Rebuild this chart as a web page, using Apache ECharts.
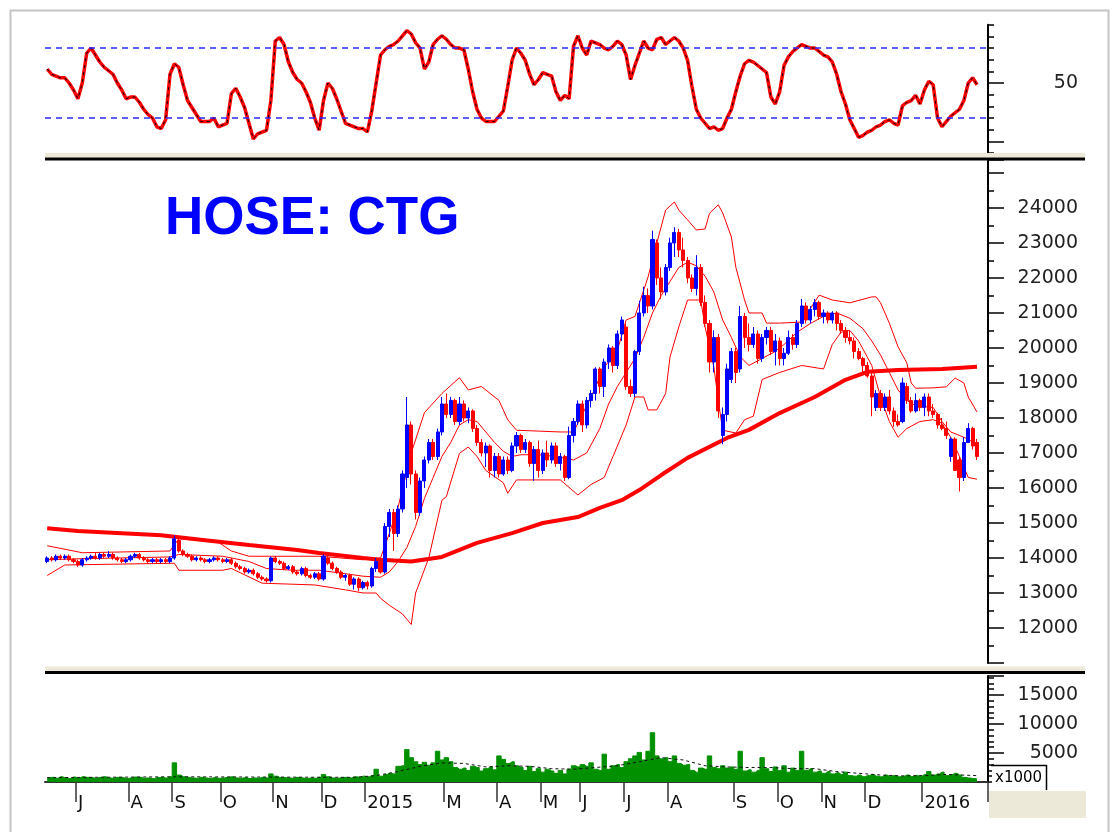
<!DOCTYPE html>
<html><head><meta charset="utf-8">
<script src="https://cdn.jsdelivr.net/npm/echarts@6/dist/echarts.min.js"></script>
<style>html,body{margin:0;padding:0;background:#fff}#c{width:1115px;height:832px}</style>
</head><body><div id="c"></div>
<script>
// ---- categories: 2-trading-day buckets grouped by month ----
const monthLabels = ['', 'J','A','S','O','N','D','2015','M','A','M','J','J','A','S','O','N','D','2016'];
const monthBuckets = [7,12,10,11,12,11,10,18,12,10,9,10,10,15,10,10,10,13,13];

// ---- price candles [open, close, low, high] ----
const candles = [
[13900,14000,13850,14050],[14000,13950,13900,14050],[13950,14050,13900,14100],[14050,14000,13950,14100],[14000,14050,13950,14100],[14050,13950,13900,14100],[13950,13900,13850,14000],[13900,13800,13750,13950],[13800,13950,13750,14000],[13950,14000,13900,14050],
[14000,14050,13950,14100],[14050,14000,13950,14150],[14000,14100,13950,14150],[14100,14050,14000,14150],[14050,14100,14000,14200],[14100,14000,13950,14150],[14000,13950,13900,14050],[13950,13900,13850,14000],[13900,13950,13850,14000],[13950,14050,13900,14100],
[14050,14100,14000,14150],[14100,14000,13950,14150],[14000,13950,13900,14050],[13950,13900,13850,14000],[13900,13950,13850,14000],[13950,13900,13850,14000],[13900,13950,13850,14000],[13950,13900,13850,14000],[13900,14000,13850,14050],[14000,14550,13950,14650],
[14500,14200,14150,14550],[14200,14100,14050,14250],[14100,14050,14000,14150],[14050,13950,13900,14100],[13950,14000,13900,14050],[14000,13950,13900,14050],[13950,13900,13850,14000],[13900,13950,13850,14000],[13950,14000,13900,14050],[14000,13950,13900,14050],
[13950,13900,13850,14000],[13900,13950,13850,14000],[13950,13850,13800,14000],[13850,13750,13700,13900],[13750,13700,13650,13800],[13700,13600,13550,13750],[13600,13650,13550,13700],[13650,13550,13500,13700],[13550,13450,13400,13600],[13450,13400,13350,13500],
[13400,13350,13300,13450],[13350,14000,13300,14050],[14000,13900,13850,14050],[13900,13850,13800,13950],[13850,13700,13650,13900],[13700,13750,13650,13800],[13750,13600,13550,13800],[13600,13550,13500,13650],[13550,13700,13500,13750],[13700,13500,13450,13750],
[13500,13450,13400,13550],[13450,13550,13400,13600],[13550,13400,13350,13600],[13400,14050,13350,14100],[14000,13850,13800,14050],[13850,13700,13650,13900],[13700,13600,13550,13750],[13600,13450,13400,13650],[13450,13500,13350,13550],[13500,13250,13200,13550],
[13250,13400,13100,13450],[13400,13150,13050,13450],[13150,13300,13100,13350],[13300,13200,13100,13350],[13200,13700,13150,13750],[13700,13900,13600,14000],[13900,13600,13550,13950],[13600,14900,13550,15000],[14900,15300,14600,15400],[15300,14700,14200,15400],
[14700,15400,14600,15500],[15400,16400,15300,16500],[16300,17800,16000,18600],[17800,16400,16100,17900],[16400,15300,15100,16500],[15300,16200,15200,16300],[16200,16800,16000,16900],[16800,17300,16700,17400],[17300,16900,16800,17400],[16900,17600,16800,17700],
[17600,18400,17500,18600],[18400,18100,18000,18700],[18100,18500,18000,18600],[18500,17900,17800,18550],[17900,18400,17800,18600],[18400,18000,17900,18500],[18000,18200,17850,18300],[18200,17700,17600,18250],[17700,17300,17200,17800],[17300,17000,16900,17400],
[17000,17200,16600,17300],[17200,16500,16300,17250],[16500,16900,16300,17000],[16900,16400,16300,17000],[16400,16800,16350,16900],[16800,16500,16400,16900],[16500,17200,16450,17300],[17200,17500,17000,17600],[17500,17100,17000,17550],[17100,17300,17000,17400],
[17300,16700,16600,17350],[16700,17100,16200,17200],[17100,16500,16300,17350],[16500,17000,16400,17100],[17000,16800,16600,17350],[16800,17200,16700,17300],[17200,16700,16600,17300],[16700,16900,16500,17000],[16900,16300,16200,16950],[16300,17500,16250,17750],
[17500,17900,17300,18000],[17900,18400,17800,18500],[18400,17800,17600,18500],[17800,18500,17700,18600],[18500,18700,18300,18800],[18700,19400,18500,19450],[19400,18900,18700,19450],[18900,19600,18600,19700],[19600,20000,19400,20100],[20000,19500,19300,20050],
[19500,20400,19400,20500],[20400,20800,20200,20900],[20600,18900,18800,20700],[18900,18700,18600,19100],[18700,19900,18600,19950],[19900,21000,19800,21350],[21000,21500,20900,21750],[21500,21200,21000,21700],[21200,23100,21100,23350],[23000,22000,21800,23100],
[22000,21600,21400,22300],[21600,22300,21500,22400],[22300,23000,22200,23150],[23000,23300,22600,23450],[23300,22800,22600,23400],[22800,22500,22300,23150],[22500,22000,21850,22600],[22000,21700,21600,22100],[21700,22300,21500,22650],[22300,21300,21200,22400],
[21300,20700,20600,21500],[20700,19600,19300,20800],[19600,20300,19300,20500],[20300,18200,18000,20400],[17500,18100,17250,18300],[18100,19400,17900,19550],[19100,19900,19000,20000],[19900,19300,19000,20000],[19400,20900,19300,21200],[20900,20300,20000,21000],
[20300,20100,19900,20700],[20100,20400,20000,20600],[20400,19700,19550,20500],[19700,20300,19600,20400],[20300,20500,20100,20600],[20500,19900,19800,20600],[19900,20200,19500,20400],[20200,19700,19500,20300],[19700,19850,19500,20000],[19850,20300,19800,20500],
[20300,20100,19950,20400],[20100,20700,20000,20800],[20700,21200,20600,21400],[21200,20800,20700,21300],[20800,21100,20700,21200],[21100,21300,20900,21400],[21300,20900,20800,21350],[20900,21000,20700,21100],[21000,20800,20700,21050],[20800,21000,20700,21050],
[21000,20700,20500,21050],[20700,20500,20400,20800],[20500,20300,20150,20600],[20300,20200,20100,20500],[20200,19900,19700,20300],[19900,19700,19650,20000],[19700,19500,19300,19750],[19500,19200,19150,19600],[19200,18600,18050,19300],[18300,18700,18200,18800],
[18700,18300,18200,18800],[18300,18600,18200,18700],[18600,18200,18100,18800],[18200,17900,17750,18300],[17900,17800,17750,18100],[17900,19000,17850,19150],[18900,18500,18400,19000],[18500,18200,18150,18600],[18200,18500,18150,18700],[18500,18300,18200,18550],
[18300,18600,18050,18700],[18600,18200,18050,18700],[18200,18100,18000,18400],[18100,17800,17700,18150],[17800,17700,17650,18000],[17700,17500,17400,17900],[16900,17400,16750,17450],[17400,16500,16500,17450],[16800,16300,15900,16900],[16300,17300,16200,17450],
[17300,17700,17300,17850],[17700,17200,17100,17750],[17300,16900,16800,17400]
];

// ---- Bollinger bands and MA200 read at selected buckets [bucket, value] ----
const bbUpper = [[0,14350],[8,14150],[28,14200],[30,14550],[39,14450],[42,14200],[46,14050],[62,14050],[72,13950],[76,14000],[78,14700],[80,15450],[83,17000],[86,18150],[90,18700],[94,19150],[96,18800],[99,18900],[103,18500],[105,17950],[107,17650],[117,17600],[120,17600],[122,18100],[124,18600],[127,19450],[130,19930],[132,20800],[134,20900],[137,22030],[139,23000],[141,23940],[143,24170],[144,23940],[146,23660],[148,23370],[150,23400],[151,23850],[153,24090],[154,23860],[156,23170],[157,22310],[159,21370],[160,21000],[163,21000],[164,20710],[167,20710],[172,20740],[176,21510],[179,21370],[183,21290],[188,21460],[189,21460],[190,21290],[192,20710],[194,20030],[196,19570],[197,19000],[198,18850],[202,18860],[205,18890],[207,19140],[209,19000],[210,18600],[212,18170]];
const bbMiddle = [[0,13950],[8,13980],[28,14030],[30,14100],[40,14050],[46,13900],[50,13700],[56,13650],[62,13650],[68,13550],[72,13480],[76,13450],[78,13600],[80,13900],[82,14300],[84,14900],[86,15700],[88,16300],[90,16900],[92,17300],[94,17800],[96,17950],[98,17900],[100,17600],[102,17300],[104,17050],[106,16900],[108,16950],[112,16950],[116,16900],[120,16800],[123,17000],[126,17700],[128,18400],[130,18900],[132,19300],[134,19700],[136,20300],[138,21000],[140,21500],[142,21900],[144,22300],[146,22450],[148,22350],[150,22050],[152,21600],[154,20800],[156,20300],[158,19750],[160,19500],[163,19700],[166,19900],[168,20100],[171,20450],[174,20700],[177,20900],[180,21000],[183,20850],[186,20550],[188,20200],[190,19800],[192,19300],[194,18800],[196,18500],[198,18350],[202,18300],[204,17900],[206,17600],[209,17450],[212,17250]];
const bbLower = [[0,13500],[4,13800],[29,13850],[30,13650],[40,13650],[42,13700],[49,13280],[61,13230],[68,13090],[72,13000],[75,13000],[76,12850],[78,12650],[81,12400],[83,12100],[84,13000],[87,14000],[90,15650],[91,15750],[94,16990],[96,17170],[98,16900],[100,16500],[104,16150],[105,15850],[107,16230],[117,16230],[121,15800],[124,16100],[127,16300],[129,16900],[132,17800],[134,18600],[136,18600],[137,18230],[139,18230],[141,18700],[142,19740],[144,20600],[146,21370],[149,21370],[150,20600],[152,19460],[153,18500],[154,17650],[157,17570],[159,17950],[161,18050],[163,19100],[167,19300],[172,19500],[177,19400],[179,20100],[181,20450],[183,20500],[185,20200],[188,19500],[190,18600],[192,17900],[194,17450],[196,17700],[199,17900],[202,17950],[204,17850],[206,17450],[208,16900],[210,16300],[212,16250]];
const ma200 = [[0,14850],[7,14770],[17,14710],[26,14650],[36,14510],[46,14370],[57,14230],[62,14140],[72,14000],[76,13950],[83,13900],[90,14030],[98,14430],[106,14710],[113,15000],[121,15170],[126,15430],[131,15650],[135,15940],[140,16370],[146,16860],[155,17430],[160,17660],[167,18140],[175,18600],[182,19090],[187,19320],[194,19370],[204,19400],[212,19460]];

// ---- RSI ----
const rsi = [58,55,54,53,53,50,46,41,50,67, 70,66,62,59,57,55,50,46,41,42, 42,39,35,32,30,25,24,29,55,61, 59,49,40,36,32,28,28,28,30,25, 26,27,44,47,42,36,27,18,21,22, 23,40,74,76,72,62,56,52,50,45, 39,30,23,40,50,47,41,34,27,26, 25,24,24,22,34,50,66,69,71,72, 74,77,80,78,73,70,58,62,72,75, 77,75,72,70,70,69,58,45,35,30, 28,28,28,31,34,48,63,70,67,63, 55,49,52,56,55,54,45,40,43,41, 71,77,70,66,74,73,72,70,69,71, 74,72,66,52,60,67,74,70,69,75, 76,72,74,76,74,70,63,48,35,30, 27,24,25,23,24,30,35,45,54,61, 63,62,60,58,56,42,38,45,60,65, 68,70,72,71,70,70,68,66,65,62, 55,45,38,29,24,19,20,22,23,25, 26,28,29,27,26,37,39,40,43,38, 46,51,49,30,25,28,31,33,35,40, 50,53,49];
const rsiBands = [70, 30];

// ---- Volume (x1000) ----
const volume = [700,800,650,900,750,600,850,700,900,800, 750,650,800,900,700,650,800,750,600,700, 850,800,650,700,600,750,800,700,900,3300, 1200,900,800,700,650,800,700,600,750,650, 700,800,900,700,650,750,600,700,650,800, 700,1400,1000,800,750,700,650,800,700,600, 700,650,800,1300,900,700,650,750,800,700, 900,850,1000,900,1100,2200,1000,1300,1500,1400, 2700,2800,5600,4200,3500,3000,3400,2900,3300,5300, 3800,4200,3500,2500,2200,2400,2000,2700,2500,1900, 2300,2600,2100,4500,3900,3200,3500,2800,2500,2000, 2700,1800,2300,1700,2200,1900,1500,2000,1400,2200, 2800,2600,3000,2700,3300,2200,2000,4800,2200,2800, 3000,2500,3500,4000,4500,5100,3800,5300,8500,4500, 4000,4200,3500,4500,3200,2900,3000,2000,1700,2400, 2200,4500,2500,2300,2800,2400,2600,2200,5300,1900, 2100,1700,2000,4200,2300,1800,2600,2000,2800,1700, 2400,2000,5300,2000,2300,1700,1900,1500,1800,1400, 1600,1300,1700,1100,1000,1200,900,1100,1300,1000, 900,1200,1000,1100,900,1000,1200,950,1100,1000, 1300,1800,1200,1400,1700,1100,1300,1500,1200,800, 700,600,500];
const volMA = [[0,750],[29,900],[70,800],[75,1100],[80,1800],[85,2700],[90,3300],[95,3200],[100,2600],[105,2800],[110,2700],[115,2300],[120,2200],[125,2500],[130,2800],[135,3500],[140,4200],[145,3800],[150,2800],[155,2600],[160,2500],[165,2500],[170,2300],[175,2300],[180,1800],[185,1500],[190,1200],[195,1050],[200,1100],[205,1300],[212,1100]];

// ---- axis label values ----
const rsiLabelValues = [50];
const priceLabelRange = [12000, 24000];
const volLabelRange = [5000, 15000];

// build categories
const categories = [];
monthBuckets.forEach((n, m) => { for (let k = 0; k < n; k++) categories.push(m + ':' + k); });
categories.push('pad-a', 'pad-b');
const isMonthStart = (idx, v) => { const p = String(v).split(':'); return p.length === 2 && p[1] === '0' && p[0] !== '0'; };
const monthLabel = (v) => { const p = String(v).split(':'); return (p.length === 2 && p[1] === '0') ? monthLabels[+p[0]] : ''; };

const FONT = 'DejaVu Sans';
const L = 45, W = 943;
const baseY = (extra) => Object.assign({
  type: 'value', position: 'right', splitLine: { show: false },
  axisLine: { show: true, lineStyle: { color: '#000', width: 2 } },
  axisTick: { show: true, length: 16, lineStyle: { color: '#000', width: 1.5 } },
  axisLabel: { show: true, align: 'right', margin: 90, fontFamily: FONT, fontSize: 19, color: '#222' }
}, extra);

const chart = echarts.init(document.getElementById('c'), null, { renderer: 'canvas' });
chart.setOption({
  animation: false,
  backgroundColor: '#ffffff',
  grid: [
    { left: L, width: W, top: 24.67, height: 128.33 },
    { left: L, width: W, top: 160, height: 503 },
    { left: L, width: W, top: 676, height: 106 }
  ],
  xAxis: [
    { type: 'category', gridIndex: 0, data: categories, boundaryGap: true, show: false },
    { type: 'category', gridIndex: 1, data: categories, boundaryGap: true, show: false },
    { type: 'category', gridIndex: 2, data: categories, boundaryGap: true, offset: 8,
      axisLine: { show: true, lineStyle: { color: '#333', width: 2 } },
      axisTick: { show: true, interval: isMonthStart, length: 20, lineStyle: { color: '#333', width: 1.5 } },
      axisLabel: { show: true, interval: isMonthStart, formatter: monthLabel, align: 'left', margin: 4,
        fontFamily: FONT, fontSize: 18, color: '#111' } }
  ],
  yAxis: [
    baseY({ gridIndex: 0, min: 10, max: 250 / 3, interval: 20 / 3,
      axisTick: { show: true, length: 6, lineStyle: { color: '#000', width: 1.5 } },
      axisLabel: { show: false } }),
    baseY({ gridIndex: 0, min: 10, max: 250 / 3, axisLine: { show: false },
      axisTick: { show: true, length: 16, customValues: [50, 50 / 3], lineStyle: { color: '#000', width: 1.5 } },
      axisLabel: { show: true, customValues: rsiLabelValues, align: 'right', margin: 90, fontFamily: FONT, fontSize: 19, color: '#222',
        padding: [6, 0, 0, 0], formatter: (v) => String(Math.round(v)) } }),
    baseY({ gridIndex: 1, min: 11000, max: 25370, interval: 1000,
      minorTick: { show: true, splitNumber: 2, length: 6, lineStyle: { color: '#000', width: 1.5 } },
      axisLabel: { show: true, align: 'right', margin: 90, fontFamily: FONT, fontSize: 19, color: '#222', padding: [3, 0, 0, 0],
        formatter: (v) => (v >= priceLabelRange[0] && v <= priceLabelRange[1]) ? String(v) : '' } }),
    baseY({ gridIndex: 2, min: 0, max: 18270, interval: 5000,
      minorTick: { show: true, splitNumber: 5, length: 6, lineStyle: { color: '#000', width: 1.5 } },
      axisLabel: { show: true, align: 'right', margin: 90, fontFamily: FONT, fontSize: 19, color: '#222',
        formatter: (v) => (v >= volLabelRange[0] && v <= volLabelRange[1]) ? String(v) : '' } })
  ],
  series: [
    { type: 'line', xAxisIndex: 0, yAxisIndex: 0, data: rsi, symbol: 'none', z: 3,
      lineStyle: { color: '#ff0000', width: 3.5 },
      markLine: { silent: true, symbol: ['none', 'none'], label: { show: false },
        lineStyle: { color: '#2a2aff', type: [6, 5], width: 1.5 },
        data: rsiBands.map(v => ({ yAxis: v })) } },
    { type: 'line', xAxisIndex: 0, yAxisIndex: 0, data: rsi, symbol: 'none', z: 4,
      lineStyle: { color: '#000', width: 1, type: [3, 4] } },
    { type: 'line', xAxisIndex: 1, yAxisIndex: 2, data: bbUpper, symbol: 'none', z: 2, lineStyle: { color: '#ff0000', width: 1 } },
    { type: 'line', xAxisIndex: 1, yAxisIndex: 2, data: bbMiddle, symbol: 'none', z: 2, lineStyle: { color: '#ff0000', width: 1 } },
    { type: 'line', xAxisIndex: 1, yAxisIndex: 2, data: bbLower, symbol: 'none', z: 2, lineStyle: { color: '#ff0000', width: 1 } },
    { type: 'line', xAxisIndex: 1, yAxisIndex: 2, data: ma200, symbol: 'none', z: 3, lineStyle: { color: '#ff0000', width: 4 } },
    { type: 'candlestick', xAxisIndex: 1, yAxisIndex: 2, data: candles, barWidth: 3.6, z: 5,
      itemStyle: { color: '#0000ff', color0: '#ff0000', borderColor: '#0000ff', borderColor0: '#ff0000', borderWidth: 1 } },
    { type: 'line', xAxisIndex: 2, yAxisIndex: 3, data: volume, symbol: 'none', step: 'middle', z: 2,
      lineStyle: { color: '#009000', width: 1 }, areaStyle: { color: '#009000', opacity: 1 } },
    { type: 'line', xAxisIndex: 2, yAxisIndex: 3, data: volMA, symbol: 'none', z: 3,
      lineStyle: { color: '#111', width: 1, type: [3, 3] } }
  ],
  graphic: [
    { type: 'rect', shape: { x: 10.5, y: 10.5, width: 1098, height: 900 }, style: { fill: 'none', stroke: '#c4c4c4', lineWidth: 2 }, z: 100 },
    { type: 'rect', shape: { x: 45, y: 153, width: 1040, height: 4.5 }, style: { fill: '#ece9d8' }, z: 100 },
    { type: 'rect', shape: { x: 45, y: 157.5, width: 1040, height: 3 }, style: { fill: '#000' }, z: 100 },
    { type: 'rect', shape: { x: 45, y: 666.5, width: 1040, height: 4.5 }, style: { fill: '#ece9d8' }, z: 100 },
    { type: 'rect', shape: { x: 45, y: 671, width: 1040, height: 3 }, style: { fill: '#000' }, z: 100 },
    { type: 'rect', shape: { x: 992, y: 766, width: 54, height: 23 }, style: { fill: '#fff' }, z: 100 },
    { type: 'line', shape: { x1: 991, y1: 765.5, x2: 1046.5, y2: 765.5 }, style: { stroke: '#000', lineWidth: 1.5 }, z: 101 },
    { type: 'line', shape: { x1: 1046.5, y1: 765, x2: 1046.5, y2: 790 }, style: { stroke: '#000', lineWidth: 1.5 }, z: 101 },
    { type: 'text', x: 995, y: 778, style: { text: 'x1000', font: '15px "DejaVu Sans"', fill: '#000', verticalAlign: 'middle' }, z: 102 },
    { type: 'rect', shape: { x: 989, y: 791, width: 97, height: 27 }, style: { fill: '#ece9d8' }, z: 100 },
    { type: 'text', x: 165, y: 219, style: { text: 'HOSE: CTG', font: 'bold 53px "Liberation Sans", Arial, sans-serif', fill: '#0000ff', verticalAlign: 'middle' }, z: 50 }
  ]
});
</script>
</body></html>
